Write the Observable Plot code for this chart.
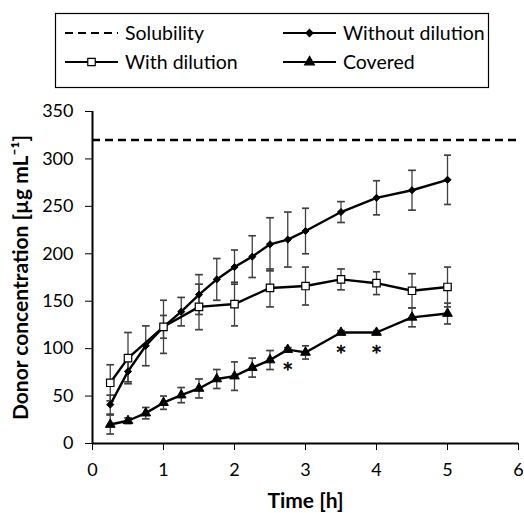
<!DOCTYPE html>
<html><head><meta charset="utf-8">
<script src="https://cdn.jsdelivr.net/npm/d3@7"></script>
<script src="https://cdn.jsdelivr.net/npm/@observablehq/plot@0.6"></script>
<style>
body{margin:0;background:#fff;font-family:Lato,sans-serif;}
#chart{width:524px;height:513px;}
#chart svg{display:block;}
</style>
</head><body><div id="chart"></div>
<script>
// ---- data ----
const solubility = 320;
const timeWithout = [0.25,0.5,0.75,1,1.25,1.5,1.75,2,2.25,2.5,2.75,3,3.5,4,4.5,5];
const valWithout  = [41,76,103,123,139,157,173,186,197,210,215,224,244,259,267,278];
const errWithout  = [10,11,21,12,15,21,22,18,22,28,29,24,11,18,21,26];
const timeWith = [0.25,0.5,1,1.5,2,2.5,3,3.5,4,4.5,5];
const valWith  = [64,90,123,144,147,164,166,173,169,161,165];
const errWith  = [19,27,28,24,23,20,20,11,12,18,21];
const timeCovered = [0.25,0.5,0.75,1,1.25,1.5,1.75,2,2.25,2.5,2.75,3,3.5,4,4.5,5];
const valCovered  = [20,24,32,43,51,58,68,71,80,88,99,96,117,117,133,137];
const errCovered  = [10,3,6,7,8,10,10,15,10,10,2,7,2,2,10,11];
const asteriskTimes = [2.75,3.5,4];
const xTicks = [0,1,2,3,4,5,6];
const yTicks = [0,50,100,150,200,250,300,350];
const legendLabels = ["Solubility","Without dilution","With dilution","Covered"];
const xLabel = "Time [h]";
const yLabel = "Donor concentration [µg mL⁻¹]";

const rows = (ts, vs, es) => ts.map((t,i)=>({t, v:vs[i], e:es[i]}));
const dWithout = rows(timeWithout, valWithout, errWithout);
const dWith = rows(timeWith, valWith, errWith);
const dCovered = rows(timeCovered, valCovered, errCovered);
const dAst = dCovered.filter(d => asteriskTimes.includes(d.t));

const FONT = "Lato, sans-serif";
const errColor = "#404040";

// ---- legend (above the plot) ----
const leg = d3.create("svg").attr("width",524).attr("height",95)
  .attr("font-family",FONT).attr("font-size",19.5);
leg.append("rect").attr("x",55.5).attr("y",13.5).attr("width",433).attr("height",74)
  .attr("fill","none").attr("stroke","black").attr("stroke-width",1.2);
const items = [
  {label:legendLabels[0], x:65, y:33, dash:"8,5", sym:null},
  {label:legendLabels[1], x:283, y:33, dash:null, sym:"diamond", fill:"black", r:3.2},
  {label:legendLabels[2], x:65, y:62, dash:null, sym:"square", fill:"white", r:4.2},
  {label:legendLabels[3], x:283, y:62, dash:null, sym:"triangle", fill:"black", r:3.6},
];
const symMap = {diamond:d3.symbolDiamond2, square:d3.symbolSquare, triangle:d3.symbolTriangle};
for (const it of items) {
  leg.append("line").attr("x1",it.x).attr("x2",it.x+53).attr("y1",it.y).attr("y2",it.y)
    .attr("stroke","black").attr("stroke-width",it.dash?2.2:2)
    .attr("stroke-dasharray",it.dash);
  if (it.sym) {
    leg.append("path").attr("transform",`translate(${it.x+26.5},${it.y})`)
      .attr("d", d3.symbol(symMap[it.sym], Math.PI*it.r*it.r)())
      .attr("fill",it.fill).attr("stroke","black").attr("stroke-width",1.2);
  }
  leg.append("text").attr("x",it.x+60).attr("y",it.y).attr("dy","0.35em").text(it.label);
}
document.getElementById("chart").append(leg.node());

// ---- plot ----
const errMark = (data) => Plot.link(data, {
  x1:"t", x2:"t", y1:d=>d.v-d.e, y2:d=>d.v+d.e,
  stroke:errColor, strokeWidth:1.3, markerStart:"tick", markerEnd:"tick"
});
const lineMark = (data) => Plot.line(data, {x:"t", y:"v", stroke:"black", strokeWidth:2.4});

const plot = Plot.plot({
  width:524, height:418,
  marginTop:16, marginBottom:70, marginLeft:92, marginRight:6,
  style:{fontFamily:FONT, fontSize:"18px", color:"black", background:"white"},
  x:{domain:[0,6]},
  y:{domain:[0,350]},
  marks:[
    Plot.ruleY([solubility], {stroke:"black", strokeWidth:2.4, strokeDasharray:"8,5"}),
    errMark(dWithout), errMark(dCovered), errMark(dWith),
    lineMark(dWithout), lineMark(dCovered), lineMark(dWith),
    Plot.dot(dWithout, {x:"t", y:"v", symbol:"diamond2", r:3.2, fill:"black", stroke:"black", strokeWidth:1}),
    Plot.dot(dCovered, {x:"t", y:"v", symbol:"triangle", r:3.6, fill:"black", stroke:"black", strokeWidth:1}),
    Plot.dot(dWith, {x:"t", y:"v", symbol:"square", r:4.2, fill:"white", stroke:"black", strokeWidth:1.2}),
    Plot.text(dAst, {x:"t", y:"v", text:()=>"*", dy:20, fontSize:18, fontFamily:"DejaVu Sans",
      fill:"black", stroke:"black", strokeWidth:0.6}),
    Plot.ruleX([0], {y1:0, y2:350, stroke:"black", strokeWidth:2}),
    Plot.ruleY([0], {x1:0, x2:6, stroke:"black", strokeWidth:2}),
    Plot.axisX({ticks:xTicks, tickSize:7, tickPadding:13, tickFormat:d=>String(d),
      label:xLabel, labelAnchor:"center", labelArrow:"none", labelOffset:64, fontSize:18}),
    Plot.axisY({ticks:yTicks, tickSize:7, tickPadding:12, tickFormat:d=>String(d),
      label:yLabel, labelAnchor:"center", labelArrow:"none", labelOffset:79, fontSize:18})
  ]
});
plot.querySelectorAll('[aria-label="x-axis label"] text')
  .forEach(t => { t.setAttribute("font-weight","bold"); t.setAttribute("font-size","21"); });
plot.querySelectorAll('[aria-label="y-axis label"] text')
  .forEach(t => { t.setAttribute("font-weight","bold"); t.setAttribute("font-size","21"); });
document.getElementById("chart").append(plot);
</script>
</body></html>
